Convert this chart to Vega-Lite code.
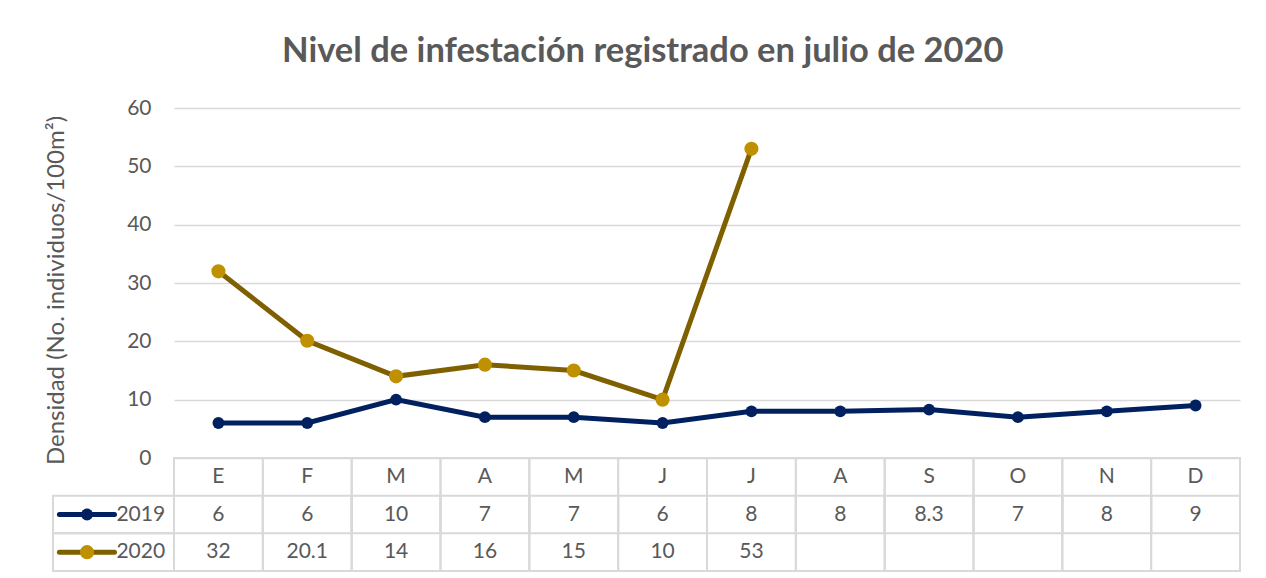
{
  "$schema": "https://vega.github.io/schema/vega-lite/v6.json",
  "padding": {"left": 44, "top": 33, "right": 10, "bottom": 0},
  "background": "white",
  "bounds": "flush",
  "config": {
    "view": {"stroke": null},
    "font": "Lato",
    "text": {"font": "Lato", "fontSize": 21, "color": "#595959"}
  },
  "title": {
    "text": "Nivel de infestación registrado en julio de 2020",
    "fontSize": 34.5,
    "fontWeight": "bold",
    "font": "Lato",
    "color": "#595959",
    "anchor": "middle",
    "offset": 28
  },
  "datasets": {
    "vals": [
      {"i": 0, "s": "2019", "v": 6}, {"i": 1, "s": "2019", "v": 6}, {"i": 2, "s": "2019", "v": 10},
      {"i": 3, "s": "2019", "v": 7}, {"i": 4, "s": "2019", "v": 7}, {"i": 5, "s": "2019", "v": 6},
      {"i": 6, "s": "2019", "v": 8}, {"i": 7, "s": "2019", "v": 8}, {"i": 8, "s": "2019", "v": 8.3},
      {"i": 9, "s": "2019", "v": 7}, {"i": 10, "s": "2019", "v": 8}, {"i": 11, "s": "2019", "v": 9},
      {"i": 0, "s": "2020", "v": 32}, {"i": 1, "s": "2020", "v": 20.1}, {"i": 2, "s": "2020", "v": 14},
      {"i": 3, "s": "2020", "v": 16}, {"i": 4, "s": "2020", "v": 15}, {"i": 5, "s": "2020", "v": 10},
      {"i": 6, "s": "2020", "v": 53}
    ],
    "months": [
      {"i": 0, "mes": "E"}, {"i": 1, "mes": "F"}, {"i": 2, "mes": "M"}, {"i": 3, "mes": "A"},
      {"i": 4, "mes": "M"}, {"i": 5, "mes": "J"}, {"i": 6, "mes": "J"}, {"i": 7, "mes": "A"},
      {"i": 8, "mes": "S"}, {"i": 9, "mes": "O"}, {"i": 10, "mes": "N"}, {"i": 11, "mes": "D"}
    ],
    "series": [{"s": "2019"}, {"s": "2020"}]
  },
  "spacing": 0,
  "vconcat": [
    {
      "width": 1066,
      "height": 350,
      "data": {"name": "vals"},
      "encoding": {
        "x": {"field": "i", "type": "quantitative", "scale": {"domain": [-0.5, 11.5], "nice": false, "zero": false}, "axis": null},
        "y": {
          "field": "v", "type": "quantitative",
          "scale": {"domain": [0, 60], "nice": false},
          "axis": {
            "values": [0, 10, 20, 30, 40, 50, 60],
            "title": "Densidad (No. individuos/100m²)",
            "titleFont": "Lato", "titleFontSize": 24, "titleFontWeight": "normal", "titleColor": "#595959",
            "titlePadding": 58, "titleY": 182,
            "labelFont": "Lato", "labelFontSize": 21, "labelColor": "#595959", "labelPadding": 23,
            "domain": false, "ticks": false,
            "gridColor": "#d9d9d9", "gridWidth": 1.5
          }
        }
      },
      "layer": [
        {
          "mark": {"type": "line", "strokeWidth": 5},
          "encoding": {
            "stroke": {"field": "s", "type": "nominal", "scale": {"domain": ["2019", "2020"], "range": ["#002060", "#7F6000"]}, "legend": null}
          }
        },
        {
          "mark": {"type": "point", "filled": true, "opacity": 1},
          "encoding": {
            "fill": {"field": "s", "type": "nominal", "scale": {"domain": ["2019", "2020"], "range": ["#002060", "#BF9000"]}, "legend": null},
            "size": {"field": "s", "type": "nominal", "scale": {"domain": ["2019", "2020"], "range": [140, 200]}, "legend": null}
          }
        }
      ]
    },
    {
      "width": 1066,
      "height": 113,
      "layer": [
        {
          "data": {"name": "months"},
          "transform": [{"calculate": "datum.i - 0.5", "as": "a"}, {"calculate": "datum.i + 0.5", "as": "b"}],
          "mark": {"type": "rect", "fill": null, "stroke": "#d9d9d9", "strokeWidth": 2},
          "encoding": {
            "x": {"field": "a", "type": "quantitative", "scale": {"domain": [-0.5, 11.5], "nice": false, "zero": false}, "axis": null},
            "x2": {"field": "b"},
            "y": {"datum": 0, "type": "quantitative", "scale": {"domain": [0, 3], "reverse": true, "nice": false}, "axis": null},
            "y2": {"datum": 3}
          }
        },
        {
          "data": {"name": "months"},
          "transform": [{"calculate": "datum.i - 0.5", "as": "a"}, {"calculate": "datum.i + 0.5", "as": "b"}],
          "mark": {"type": "rect", "fill": null, "stroke": "#d9d9d9", "strokeWidth": 2},
          "encoding": {
            "x": {"field": "a", "type": "quantitative"},
            "x2": {"field": "b"},
            "y": {"datum": 1, "type": "quantitative"},
            "y2": {"datum": 2}
          }
        },
        {
          "data": {"name": "series"},
          "transform": [{"calculate": "datum.s == '2019' ? 1 : 2", "as": "r0"}, {"calculate": "datum.r0 + 1", "as": "r1"}],
          "mark": {"type": "rect", "fill": null, "stroke": "#d9d9d9", "strokeWidth": 2},
          "encoding": {
            "x": {"datum": -1.862, "type": "quantitative"},
            "x2": {"datum": -0.5},
            "y": {"field": "r0", "type": "quantitative"},
            "y2": {"field": "r1"}
          }
        },
        {
          "data": {"name": "months"},
          "mark": {"type": "text", "align": "center", "baseline": "middle", "fontSize": 21, "color": "#595959", "font": "Lato"},
          "encoding": {
            "x": {"field": "i", "type": "quantitative"},
            "y": {"datum": 0.5, "type": "quantitative"},
            "text": {"field": "mes"}
          }
        },
        {
          "data": {"name": "vals"},
          "transform": [{"calculate": "datum.s == '2019' ? 1.5 : 2.5", "as": "r"}],
          "mark": {"type": "text", "align": "center", "baseline": "middle", "fontSize": 21, "color": "#595959", "font": "Lato"},
          "encoding": {
            "x": {"field": "i", "type": "quantitative"},
            "y": {"field": "r", "type": "quantitative"},
            "text": {"field": "v", "type": "quantitative", "format": ""}
          }
        },
        {
          "data": {"name": "series"},
          "transform": [{"calculate": "datum.s == '2019' ? 1.5 : 2.5", "as": "r"}],
          "mark": {"type": "rule", "strokeWidth": 5, "strokeCap": "round"},
          "encoding": {
            "x": {"datum": -1.79, "type": "quantitative"},
            "x2": {"datum": -1.17},
            "y": {"field": "r", "type": "quantitative"},
            "stroke": {"field": "s", "type": "nominal", "scale": {"domain": ["2019", "2020"], "range": ["#002060", "#7F6000"]}, "legend": null}
          }
        },
        {
          "data": {"name": "series"},
          "transform": [{"calculate": "datum.s == '2019' ? 1.5 : 2.5", "as": "r"}],
          "mark": {"type": "point", "filled": true, "opacity": 1},
          "encoding": {
            "x": {"datum": -1.479, "type": "quantitative"},
            "y": {"field": "r", "type": "quantitative"},
            "fill": {"field": "s", "type": "nominal", "scale": {"domain": ["2019", "2020"], "range": ["#002060", "#BF9000"]}, "legend": null},
            "size": {"field": "s", "type": "nominal", "scale": {"domain": ["2019", "2020"], "range": [100, 170]}, "legend": null}
          }
        },
        {
          "data": {"name": "series"},
          "transform": [{"calculate": "datum.s == '2019' ? 1.5 : 2.5", "as": "r"}],
          "mark": {"type": "text", "align": "right", "baseline": "middle", "fontSize": 21, "color": "#595959", "font": "Lato"},
          "encoding": {
            "x": {"datum": -0.6, "type": "quantitative"},
            "y": {"field": "r", "type": "quantitative"},
            "text": {"field": "s"}
          }
        }
      ]
    }
  ]
}
